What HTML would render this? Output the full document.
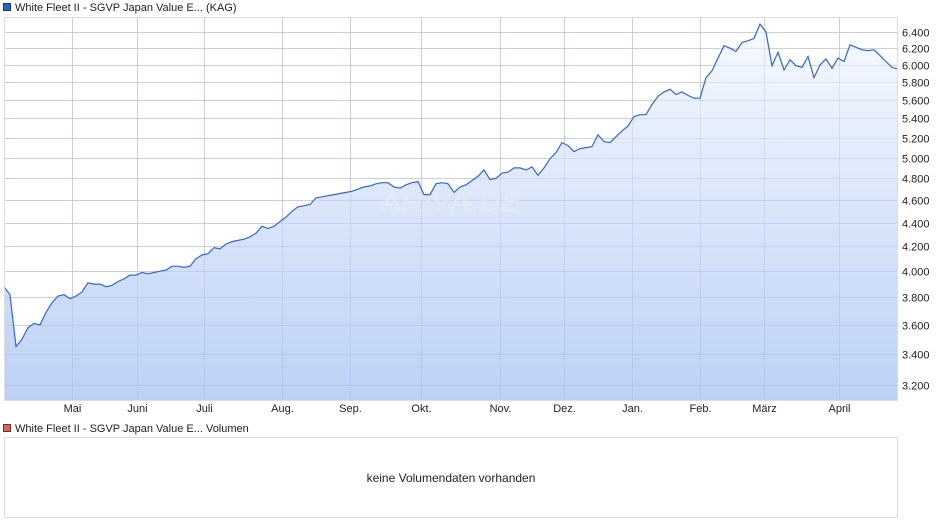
<!DOCTYPE html>
<html><head><meta charset="utf-8"><style>
body{margin:0;background:#fff;font-family:"Liberation Sans",sans-serif;}
svg{display:block}
</style></head><body>
<svg width="940" height="526" xmlns="http://www.w3.org/2000/svg">
<defs><linearGradient id="fg" x1="0" y1="0" x2="0" y2="1">
<stop offset="0" stop-color="#f7f9fe"/><stop offset="1" stop-color="#bcd1f5"/></linearGradient></defs>
<g id="legend1">
<rect x="3.5" y="3.5" width="7" height="7" fill="#2a62c4" stroke="#1a3a80"/>
<text x="15" y="11" font-size="11" fill="#222">White Fleet II - SGVP Japan Value E... (KAG)</text></g>
<g id="grid"></g>
<path id="area" fill="url(#fg)"/>
<g id="vgrid"></g>
<text x="450" y="212" font-size="30" font-weight="bold" font-style="italic" fill="#e6ebf3" text-anchor="middle" opacity="0.6">ARIVA.DE</text>
<path id="line" fill="none" stroke="#3468c4" stroke-width="1.2"/>
<rect x="4.5" y="17.5" width="893" height="383" fill="none" stroke="#ddd"/>
<g id="xlabels"></g><g id="ylabels"></g>
<g>
<rect x="3.5" y="424.5" width="7" height="7" fill="#d9665e" stroke="#7a2a25"/>
<text x="15" y="432" font-size="11" fill="#222">White Fleet II - SGVP Japan Value E... Volumen</text></g>
<rect x="4.5" y="437.5" width="893" height="80" fill="#fff" stroke="#ddd"/>
<text x="451" y="482" font-size="12" fill="#222" text-anchor="middle">keine Volumendaten vorhanden</text>
</svg>
<script>
const values=[3880,3820,3450,3500,3580,3610,3600,3690,3760,3810,3820,3790,3810,3840,3910,3900,3900,3880,3890,3920,3940,3970,3970,3990,3980,3990,4000,4010,4040,4040,4030,4040,4100,4130,4140,4190,4180,4220,4240,4250,4260,4280,4310,4370,4350,4370,4410,4450,4500,4540,4550,4560,4620,4630,4640,4650,4660,4670,4680,4700,4720,4730,4750,4760,4760,4720,4710,4740,4760,4770,4650,4650,4750,4760,4750,4670,4720,4740,4780,4820,4880,4790,4800,4850,4860,4900,4900,4880,4910,4830,4900,4990,5050,5150,5120,5060,5090,5100,5110,5230,5160,5150,5210,5270,5320,5420,5440,5440,5550,5640,5690,5720,5660,5690,5650,5620,5620,5850,5930,6080,6230,6200,6160,6270,6290,6320,6500,6400,5990,6150,5940,6060,5990,5970,6100,5850,6000,6070,5960,6080,6040,6240,6210,6180,6170,6180,6110,6040,5970,5950];
const yTicks=[3200,3400,3600,3800,4000,4200,4400,4600,4800,5000,5200,5400,5600,5800,6000,6200,6400];
const yTickLabels=["3.200","3.400","3.600","3.800","4.000","4.200","4.400","4.600","4.800","5.000","5.200","5.400","5.600","5.800","6.000","6.200","6.400"];
const months=["Mai","Juni","Juli","Aug.","Sep.","Okt.","Nov.","Dez.","Jan.","Feb.","März","April"];
const monthIndex=[1,1.933,2.894,4.013,4.989,6.007,7.14,8.059,9.034,10.01,10.928,12.004];
const NS="http://www.w3.org/2000/svg";
const L=4,R=898,T=17,B=400;
const y=v=>32+509*Math.log(6400/v);
const xi=i=>L+i*(R-L)/(values.length-1);
const xm=m=>72+(m-1)*69.7;
function mk(tag,a,p){const e=document.createElementNS(NS,tag);for(const k in a)e.setAttribute(k,a[k]);p.appendChild(e);return e;}
const g=document.getElementById('grid'),vg=document.getElementById('vgrid'),yl=document.getElementById('ylabels'),xl=document.getElementById('xlabels');
yTicks.forEach((t,i)=>{const yy=Math.round(y(t))+0.5;
const ln=mk('line',{x1:L,x2:R,y1:yy,y2:yy,stroke:'#dcdcdc'},g);


const ln2=mk('line',{x1:L,x2:R,y1:yy,y2:yy,stroke:'rgba(120,150,200,0.18)'},vg);


const tx=mk('text',{x:902,y:yy+4,'font-size':11,fill:'#222'},yl);tx.textContent=yTickLabels[i];

});
months.forEach((m,i)=>{const xx=Math.round(xm(monthIndex[i]))+0.5;
const ln=mk('line',{x1:xx,x2:xx,y1:T,y2:B,stroke:'#dcdcdc'},g);


const ln2=mk('line',{x1:xx,x2:xx,y1:T,y2:B,stroke:'rgba(120,150,200,0.18)'},vg);


const tx=mk('text',{x:xx,y:412,'font-size':11,fill:'#222','text-anchor':'middle'},xl);tx.textContent=m;

});
let d=values.map((v,i)=>(i?'L':'M')+xi(i).toFixed(1)+','+y(v).toFixed(1)).join('');
document.getElementById('line').setAttribute('d',d);
document.getElementById('area').setAttribute('d',d+'L'+R+','+B+'L'+L+','+B+'Z');
</script>
</body></html>
